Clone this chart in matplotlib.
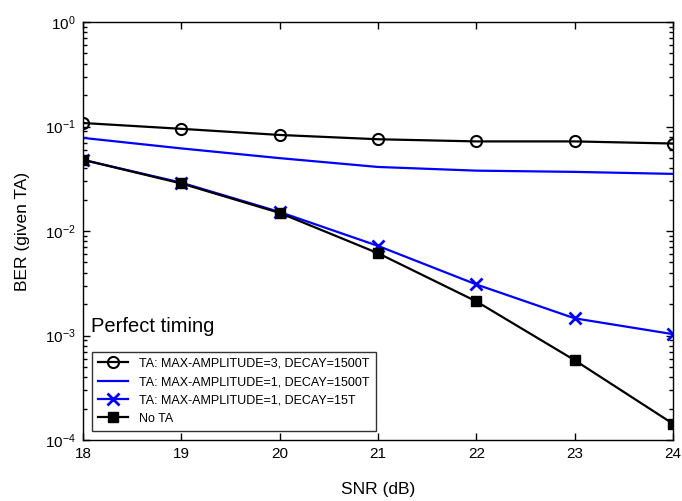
import matplotlib
matplotlib.use("Agg")
import matplotlib.pyplot as plt
from matplotlib.ticker import LogLocator, NullFormatter

plt.rcParams['font.family'] = ['Liberation Sans', 'DejaVu Sans']
plt.rcParams['mathtext.fontset'] = 'custom'
plt.rcParams['mathtext.rm'] = 'Liberation Sans'

snr = [18, 19, 20, 21, 22, 23, 24]
ber_amp3_1500 = [0.108, 0.095, 0.083, 0.0755, 0.072, 0.072, 0.0687]
ber_amp1_1500 = [0.0778, 0.0617, 0.0498, 0.041, 0.0378, 0.0368, 0.0352]
ber_amp1_15 = [0.048, 0.029, 0.0152, 0.0072, 0.00308, 0.00146, 0.00103]
ber_no_ta = [0.048, 0.0285, 0.0149, 0.00613, 0.00212, 0.00058, 0.000143]

labels = ['TA: MAX-AMPLITUDE=3, DECAY=1500T',
          'TA: MAX-AMPLITUDE=1, DECAY=1500T',
          'TA: MAX-AMPLITUDE=1, DECAY=15T',
          'No TA']

fig = plt.figure(figsize=(6.82, 5.01), dpi=100)
ax = fig.add_axes([83 / 682, 1 - 440 / 501, (673 - 83) / 682, (440 - 22) / 501])

ax.semilogy(snr, ber_amp3_1500, color='black', lw=1.6, marker='o', ms=8,
            mfc='none', mew=1.5, label=labels[0])
ax.semilogy(snr, ber_amp1_1500, color='#0000ff', lw=1.6, label=labels[1])
ax.semilogy(snr, ber_amp1_15, color='#0000ff', lw=1.6, marker='x', ms=8,
            mew=2, label=labels[2])
ax.semilogy(snr, ber_no_ta, color='black', lw=1.6, marker='s', ms=7.5,
            mfc='black', label=labels[3])

ax.set_xlim(18, 24)
ax.set_ylim(1e-4, 1)
ax.set_xticks(snr)
ax.yaxis.set_major_locator(LogLocator(base=10, numticks=10))
ax.yaxis.set_minor_locator(LogLocator(base=10, subs=range(2, 10), numticks=10))
ax.yaxis.set_minor_formatter(NullFormatter())
ax.tick_params(which='both', direction='in', top=True, right=True, labelsize=11)
ax.tick_params(which='major', length=5, width=1, pad=5)
ax.tick_params(which='minor', length=3, width=1)
for s in ax.spines.values():
    s.set_linewidth(1)

ax.set_xlabel('SNR (dB)', fontsize=12.5, labelpad=15)
ax.set_ylabel('BER (given TA)', fontsize=12.5, labelpad=11)

ax.text(0.014, 0.258, 'Perfect timing', transform=ax.transAxes, fontsize=14.5)

leg = ax.legend(loc='lower left', bbox_to_anchor=(0.015, 0.022), fontsize=9.0,
                frameon=True, fancybox=False, edgecolor='black',
                handlelength=2.4, borderpad=0.5, labelspacing=0.5,
                handletextpad=0.9, borderaxespad=0)
leg.get_frame().set_linewidth(1)

fig.savefig('out.png', dpi=100)
